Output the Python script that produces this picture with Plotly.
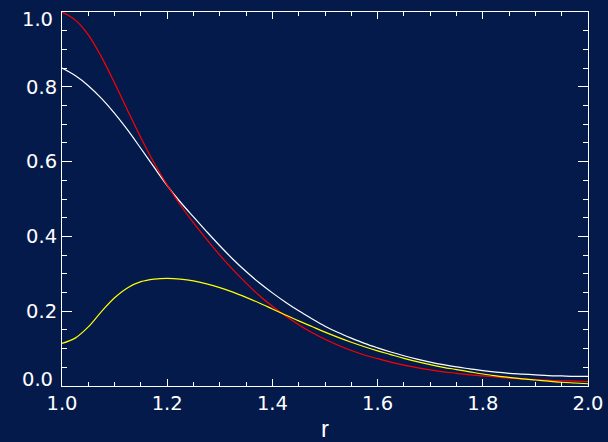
import plotly.graph_objects as go

# Radial coordinate (uniform grid) and the three profiles
r = [1.000, 1.025, 1.050, 1.075, 1.100, 1.125, 1.150, 1.175, 1.200, 1.225,
     1.250, 1.275, 1.300, 1.325, 1.350, 1.375, 1.400, 1.425, 1.450, 1.475,
     1.500, 1.525, 1.550, 1.575, 1.600, 1.625, 1.650, 1.675, 1.700, 1.725,
     1.750, 1.775, 1.800, 1.825, 1.850, 1.875, 1.900, 1.925, 1.950, 1.975, 2.000]

red_curve = [1.000, 0.979, 0.939, 0.880, 0.810, 0.736, 0.664, 0.597, 0.537, 0.484,
             0.436, 0.392, 0.350, 0.311, 0.275, 0.242, 0.213, 0.187, 0.164, 0.143,
             0.125, 0.109, 0.095, 0.083, 0.073, 0.064, 0.056, 0.049, 0.043, 0.038,
             0.034, 0.030, 0.027, 0.024, 0.021, 0.019, 0.017, 0.015, 0.014, 0.013, 0.012]

white_curve = [0.850, 0.830, 0.803, 0.769, 0.729, 0.684, 0.635, 0.585, 0.536, 0.492,
               0.452, 0.413, 0.375, 0.339, 0.306, 0.276, 0.249, 0.224, 0.201, 0.180,
               0.160, 0.143, 0.128, 0.114, 0.102, 0.091, 0.081, 0.072, 0.064, 0.057,
               0.051, 0.046, 0.041, 0.037, 0.034, 0.032, 0.030, 0.028, 0.027, 0.026, 0.026]

yellow_curve = [0.114, 0.128, 0.158, 0.199, 0.236, 0.263, 0.279, 0.286, 0.288, 0.286,
                0.281, 0.273, 0.263, 0.251, 0.237, 0.222, 0.206, 0.190, 0.174, 0.159,
                0.144, 0.130, 0.117, 0.105, 0.094, 0.084, 0.074, 0.065, 0.057, 0.050,
                0.044, 0.038, 0.032, 0.027, 0.023, 0.019, 0.016, 0.013, 0.010, 0.008, 0.006]

x_ticks = [1.0, 1.2, 1.4, 1.6, 1.8, 2.0]
y_ticks = [0.0, 0.2, 0.4, 0.6, 0.8, 1.0]

BG = "#041a4a"
FONT = "DejaVu Sans"
TICK_SIZE = 19.5

fig = go.Figure()
for ys, col in [(white_curve, "#ffffff"), (red_curve, "#ff0000"), (yellow_curve, "#ffff00")]:
    fig.add_trace(go.Scatter(x=r, y=ys, mode="lines",
                             line=dict(color=col, width=1.2, shape="spline", smoothing=1.0),
                             showlegend=False, hoverinfo="skip"))

axis_common = dict(
    showline=True, linecolor="#ffffff", linewidth=1, mirror="allticks",
    ticks="inside", tickcolor="#ffffff", tickwidth=1,
    showgrid=False, zeroline=False, automargin=False,
    tickfont=dict(family=FONT, size=TICK_SIZE, color="#ffffff"),
)

fig.update_xaxes(range=[1.0, 2.0], tickvals=x_ticks, ticktext=[f"{v:.1f}" for v in x_ticks],
                 ticklen=7,
                 minor=dict(ticks="inside", ticklen=4, dtick=0.05, tickcolor="#ffffff", tickwidth=1),
                 title=dict(text="r", font=dict(family="Liberation Sans", size=24, color="#ffffff"),
                            standoff=16),
                 **axis_common)

# the end labels of the y axis are pulled inside the frame, so they are placed separately
y_text = [f"{v:.1f}" if 0.0 < v < 1.0 else "" for v in y_ticks]
fig.update_yaxes(range=[0.0, 1.0], tickvals=y_ticks, ticktext=y_text, ticklen=10,
                 minor=dict(ticks="inside", ticklen=5, dtick=0.05, tickcolor="#ffffff", tickwidth=1),
                 **axis_common)

for v, shift in [(y_ticks[0], 7), (y_ticks[-1], -7)]:
    fig.add_annotation(x=0, xref="paper", y=v, yref="y", text=f"{v:.1f}",
                       showarrow=False, xanchor="right", yanchor="middle",
                       xshift=-7, yshift=shift,
                       font=dict(family=FONT, size=TICK_SIZE, color="#ffffff"))

fig.update_layout(
    width=608, height=442,
    margin=dict(l=62, r=20, t=12, b=56),
    paper_bgcolor=BG, plot_bgcolor=BG,
    font=dict(family=FONT, color="#ffffff"),
)

fig.write_html("out.html")
